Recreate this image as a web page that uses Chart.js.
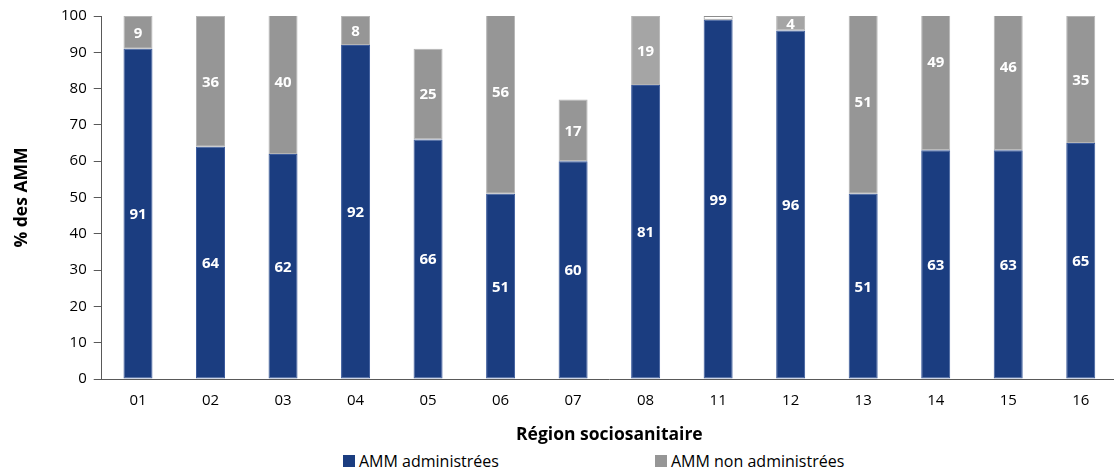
<!DOCTYPE html>
<html>
<head>
<meta charset="utf-8">
<script src="https://cdn.jsdelivr.net/npm/chart.js@4/dist/chart.umd.min.js"></script>
<style>
  body { margin: 0; background: #fff; font-family: "Open Sans", sans-serif; overflow: hidden; }
  #wrap { position: relative; width: 1114px; height: 472px; overflow: hidden; }
  #box { position: absolute; left: 0; top: 0; width: 1120px; height: 446px; }
  #legend { position: absolute; top: 450px; left: 0; width: 1114px; height: 22px; font-size: 16px; color: #000; }
  .item { position: absolute; top: 0; display: flex; align-items: center; }
  .sw { width: 12px; height: 12px; margin-right: 4px; }
</style>
</head>
<body>
<div id="wrap">
  <div id="box"><canvas id="chart"></canvas></div>
  <div id="legend">
    <div class="item" style="left:343px"><span class="sw" style="background:#1b3d80"></span>AMM administrées</div>
    <div class="item" style="left:655px"><span class="sw" style="background:#969696"></span>AMM non administrées</div>
  </div>
</div>
<script>
// Régions et pourcentages
const regions = ['01', '02', '03', '04', '05', '06', '07', '08', '11', '12', '13', '14', '15', '16'];
const administrees = [91, 64, 62, 92, 66, 51, 60, 81, 99, 96, 51, 63, 63, 65];
const nonAdministrees = [9, 36, 40, 8, 25, 56, 17, 19, 1, 4, 51, 49, 46, 35];
const yTicks = [0, 10, 20, 30, 40, 50, 60, 70, 80, 90, 100];

const FONT = '"Open Sans", sans-serif';
const blue = '#1b3d80';
const grayColors = regions.map(r => (r === '08' || r === '12') ? '#a5a5a5' : '#969696');
grayColors[regions.indexOf('11')] = '#ffffff';
const grayBorders = regions.map(r => r === '11' ? '#8c8c8c' : '#b4b4b4');

// étiquettes blanches au centre de chaque segment (non tronqué)
const labelsPlugin = {
  id: 'segLabels',
  afterDatasetsDraw(chart) {
    const ctx = chart.ctx;
    const y = chart.scales.y;
    ctx.save();
    ctx.fillStyle = '#ffffff';
    ctx.font = 'bold 15px ' + FONT;
    ctx.textAlign = 'center';
    ctx.textBaseline = 'middle';
    chart.data.datasets.forEach((ds, di) => {
      const meta = chart.getDatasetMeta(di);
      meta.data.forEach((bar, i) => {
        const v = ds.data[i];
        if (v < 3) return;
        const start = di === 0 ? 0 : administrees[i];
        ctx.fillText(String(v), bar.x, y.getPixelForValue(start + v / 2) + 1);
      });
    });
    ctx.restore();
  }
};

new Chart(document.getElementById('chart'), {
  type: 'bar',
  data: {
    labels: regions,
    datasets: [
      {
        label: 'AMM administrées',
        data: administrees,
        backgroundColor: blue,
        borderColor: '#3d5c9c',
        borderWidth: 1,
        borderSkipped: false
      },
      {
        label: 'AMM non administrées',
        data: nonAdministrees,
        backgroundColor: grayColors,
        borderColor: grayBorders,
        borderWidth: 1,
        borderSkipped: false
      }
    ]
  },
  options: {
    responsive: true,
    maintainAspectRatio: false,
    animation: false,
    layout: { padding: { top: 8, right: 3, left: 12, bottom: 0 } },
    datasets: { bar: { categoryPercentage: 1.0, barPercentage: 0.4 } },
    plugins: {
      legend: { display: false },
      tooltip: { enabled: false }
    },
    scales: {
      x: {
        stacked: true,
        grid: { display: false, drawTicks: false },
        border: { color: '#595959', width: 1 },
        ticks: { color: '#000', font: { size: 15, family: FONT }, padding: 13 },
        title: {
          display: true,
          text: 'Région sociosanitaire',
          color: '#000',
          font: { size: 17.5, weight: 'bold', family: FONT },
          padding: { top: 2, bottom: 0 }
        }
      },
      y: {
        stacked: true,
        min: 0,
        max: 100,
        afterBuildTicks(axis) { axis.ticks = yTicks.map(v => ({ value: v })); },
        grid: { display: true, drawOnChartArea: false, drawTicks: true, tickLength: 8, color: '#595959' },
        border: { color: '#595959', width: 1 },
        ticks: { color: '#000', font: { size: 15, family: FONT }, padding: 7 },
        title: {
          display: true,
          text: '% des AMM',
          color: '#000',
          font: { size: 17.5, weight: 'bold', family: FONT },
          padding: { top: 0, bottom: 21 }
        }
      }
    }
  },
  plugins: [labelsPlugin]
});
</script>
</body>
</html>
